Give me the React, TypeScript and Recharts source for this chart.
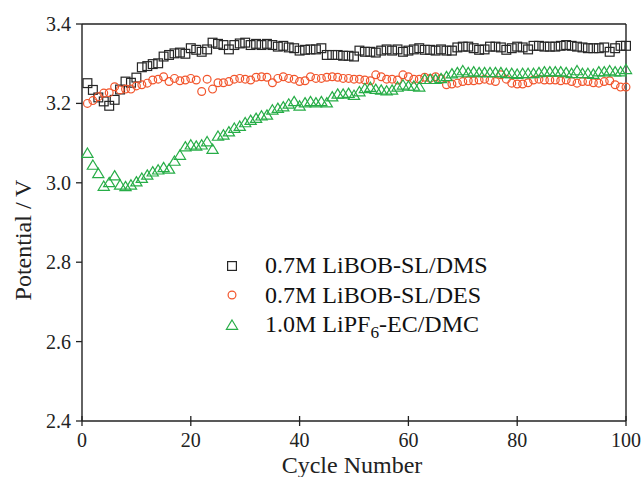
import React from 'react';
import { ScatterChart, Scatter, XAxis, YAxis, Legend } from 'recharts';

// Cell potential vs cycle number for three electrolytes (cycles 1..100)
const cycleTicks = [0, 20, 40, 60, 80, 100];
const potentialTicks = [2.4, 2.6, 2.8, 3.0, 3.2, 3.4];
const minorPotentialTicks = [2.4, 2.5, 2.6, 2.7, 2.8, 2.9, 3.0, 3.1, 3.2, 3.3, 3.4];

const dmsPotential = [
  3.251, 3.234, 3.215, 3.205, 3.194, 3.209, 3.235, 3.255, 3.252, 3.265,
  3.291, 3.294, 3.299, 3.301, 3.318, 3.322, 3.326, 3.328, 3.325, 3.339,
  3.335, 3.330, 3.336, 3.353, 3.350, 3.347, 3.336, 3.347, 3.351, 3.353,
  3.347, 3.350, 3.347, 3.350, 3.347, 3.343, 3.345, 3.341, 3.339, 3.333,
  3.335, 3.336, 3.336, 3.339, 3.322, 3.322, 3.322, 3.320, 3.320, 3.318,
  3.333, 3.330, 3.330, 3.328, 3.333, 3.336, 3.333, 3.336, 3.330, 3.333,
  3.336, 3.339, 3.335, 3.335, 3.333, 3.336, 3.333, 3.333, 3.341, 3.343,
  3.343, 3.339, 3.335, 3.336, 3.343, 3.343, 3.341, 3.335, 3.339, 3.343,
  3.341, 3.336, 3.345, 3.345, 3.343, 3.343, 3.343, 3.345, 3.347, 3.345,
  3.343, 3.341, 3.339, 3.339, 3.339, 3.341, 3.330, 3.339, 3.345, 3.345,
];

const desPotential = [
  3.200, 3.207, 3.217, 3.226, 3.227, 3.242, 3.234, 3.236, 3.236, 3.244,
  3.247, 3.251, 3.259, 3.261, 3.267, 3.255, 3.263, 3.257, 3.259, 3.263,
  3.259, 3.230, 3.261, 3.236, 3.252, 3.252, 3.255, 3.261, 3.263, 3.261,
  3.259, 3.266, 3.267, 3.266, 3.252, 3.263, 3.267, 3.263, 3.261, 3.255,
  3.257, 3.267, 3.263, 3.263, 3.266, 3.267, 3.266, 3.263, 3.263, 3.261,
  3.261, 3.259, 3.257, 3.272, 3.267, 3.261, 3.261, 3.259, 3.272, 3.267,
  3.261, 3.261, 3.266, 3.263, 3.267, 3.262, 3.247, 3.249, 3.251, 3.255,
  3.257, 3.257, 3.259, 3.261, 3.258, 3.255, 3.272, 3.261, 3.251, 3.249,
  3.249, 3.252, 3.259, 3.261, 3.259, 3.259, 3.259, 3.257, 3.259, 3.255,
  3.251, 3.255, 3.255, 3.252, 3.251, 3.255, 3.257, 3.247, 3.241, 3.241,
];

const lipf6Potential = [
  3.075, 3.045, 3.024, 2.992, 3.001, 3.018, 2.995, 2.991, 2.995, 3.003,
  3.012, 3.020, 3.028, 3.033, 3.039, 3.035, 3.055, 3.070, 3.091, 3.096,
  3.093, 3.096, 3.104, 3.085, 3.118, 3.121, 3.129, 3.138, 3.143, 3.152,
  3.158, 3.163, 3.169, 3.171, 3.184, 3.188, 3.192, 3.199, 3.205, 3.194,
  3.202, 3.205, 3.202, 3.205, 3.202, 3.217, 3.224, 3.224, 3.226, 3.221,
  3.230, 3.238, 3.241, 3.236, 3.234, 3.232, 3.234, 3.242, 3.247, 3.244,
  3.244, 3.242, 3.261, 3.261, 3.261, 3.263, 3.268, 3.275, 3.278, 3.283,
  3.278, 3.280, 3.278, 3.278, 3.278, 3.278, 3.278, 3.276, 3.276, 3.274,
  3.276, 3.276, 3.276, 3.278, 3.280, 3.280, 3.280, 3.280, 3.278, 3.276,
  3.283, 3.276, 3.276, 3.274, 3.280, 3.280, 3.283, 3.280, 3.280, 3.286,
];

const toPoints = (values: number[]) =>
  values.map((potential, i) => ({ cycle: i + 1, potential }));

type MarkerKind = 'square' | 'circle' | 'triangle';

const series: { name: React.ReactNode; color: string; kind: MarkerKind; data: { cycle: number; potential: number }[] }[] = [
  { name: '0.7M LiBOB-SL/DMS', color: '#262626', kind: 'square', data: toPoints(dmsPotential) },
  { name: '0.7M LiBOB-SL/DES', color: '#f2552c', kind: 'circle', data: toPoints(desPotential) },
  {
    name: (
      <>
        1.0M LiPF<span style={{ fontSize: '0.72em', position: 'relative', top: '0.35em' }}>6</span>-EC/DMC
      </>
    ),
    color: '#27ad47',
    kind: 'triangle',
    data: toPoints(lipf6Potential),
  },
];

const FONT = '"Liberation Serif", "Times New Roman", serif';
const INK = '#222';

function Marker({ kind, color, cx, cy }: { kind: MarkerKind; color: string; cx: number; cy: number }) {
  if (cx == null || cy == null) return null;
  if (kind === 'square') {
    return <rect x={cx - 4.4} y={cy - 4.4} width={8.8} height={8.8} fill="none" stroke={color} strokeWidth={1.2} />;
  }
  if (kind === 'circle') {
    return <circle cx={cx} cy={cy} r={3.9} fill="none" stroke={color} strokeWidth={1.2} />;
  }
  return (
    <polygon
      points={`${cx},${cy - 5} ${cx + 5.6},${cy + 4.3} ${cx - 5.6},${cy + 4.3}`}
      fill="none"
      stroke={color}
      strokeWidth={1.2}
    />
  );
}

// Bottom axis: ticks cross the axis line, labels below
const BottomTick = ({ x, y, payload }: any) => (
  <g>
    <line x1={x} x2={x} y1={y - 5} y2={y + 5} stroke={INK} strokeWidth={1.3} />
    <text x={x} y={y + 26} textAnchor="middle" fontSize={20} fontFamily={FONT} fill={INK}>
      {payload.value}
    </text>
  </g>
);

// Left axis: outward ticks, one decimal place
const LeftTick = ({ x, y, payload }: any) => (
  <g>
    <line x1={x - 6} x2={x} y1={y} y2={y} stroke={INK} strokeWidth={1.3} />
    <text x={x - 11} y={y + 7} textAnchor="end" fontSize={20} fontFamily={FONT} fill={INK}>
      {Number(payload.value).toFixed(1)}
    </text>
  </g>
);

// Right frame: short inward ticks every 0.1 V
const RightTick = ({ x, y }: any) => (
  <line x1={x - 4} x2={x} y1={y} y2={y} stroke={INK} strokeWidth={1.2} />
);

const axisLine = { stroke: INK, strokeWidth: 1.4 };

function LegendBox() {
  return (
    <div style={{ fontFamily: FONT, fontSize: 24, color: '#111' }}>
      {series.map((s, i) => (
        <div key={i} style={{ display: 'flex', alignItems: 'center', height: 29.5, whiteSpace: 'nowrap' }}>
          <svg width={20} height={20} style={{ marginRight: 23, flex: 'none' }}>
            <Marker kind={s.kind} color={s.color} cx={10} cy={10} />
          </svg>
          <span>{s.name}</span>
        </div>
      ))}
    </div>
  );
}

export default function App() {
  return (
    <div style={{ position: 'absolute', left: 0, top: 0, background: '#fff', fontFamily: FONT }}>
      <ScatterChart width={644} height={477} margin={{ top: 0, right: 0, bottom: 0, left: 0 }}>
        <XAxis
          xAxisId="bottom"
          type="number"
          dataKey="cycle"
          domain={[0, 100]}
          ticks={cycleTicks}
          height={56}
          tickSize={0}
          tickMargin={0}
          axisLine={axisLine}
          tick={(p: any) => <BottomTick {...p} />}
          label={{
            content: () => (
              <text x={352} y={473} textAnchor="middle" fontSize={24} fontFamily={FONT} fill={INK}>
                Cycle Number
              </text>
            ),
          }}
        />
        <XAxis
          xAxisId="top"
          orientation="top"
          type="number"
          dataKey="cycle"
          domain={[0, 100]}
          height={24}
          tick={false}
          tickLine={false}
          axisLine={axisLine}
        />
        <YAxis
          yAxisId="left"
          type="number"
          dataKey="potential"
          domain={[2.4, 3.4]}
          ticks={potentialTicks}
          width={82}
          tickSize={0}
          tickMargin={0}
          axisLine={axisLine}
          tick={(p: any) => <LeftTick {...p} />}
          label={{
            content: () => (
              <text
                x={31}
                y={240}
                transform="rotate(-90 31 240)"
                textAnchor="middle"
                fontSize={24}
                fontFamily={FONT}
                fill={INK}
              >
                Potential / V
              </text>
            ),
          }}
        />
        <YAxis
          yAxisId="right"
          orientation="right"
          type="number"
          dataKey="potential"
          domain={[2.4, 3.4]}
          ticks={minorPotentialTicks}
          width={18}
          tickSize={0}
          tickMargin={0}
          axisLine={axisLine}
          tick={(p: any) => <RightTick {...p} />}
        />
        {series.map((s, i) => (
          <Scatter
            key={i}
            xAxisId="bottom"
            yAxisId="left"
            data={s.data}
            isAnimationActive={false}
            shape={(p: any) => <Marker kind={s.kind} color={s.color} cx={p.cx} cy={p.cy} />}
          />
        ))}
        <Legend
          layout="vertical"
          align="center"
          verticalAlign="middle"
          wrapperStyle={{ left: 222, top: 251, width: 340 }}
          content={() => <LegendBox />}
        />
      </ScatterChart>
    </div>
  );
}
